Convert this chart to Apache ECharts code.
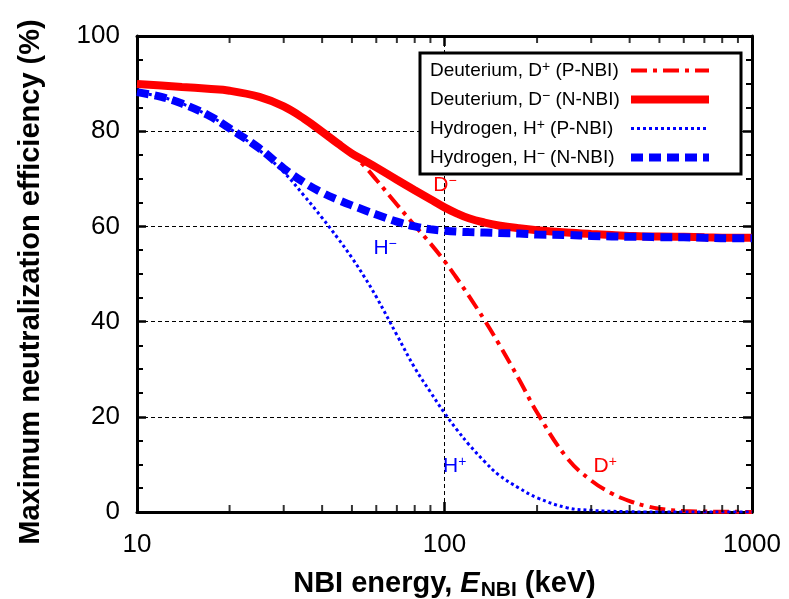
<!DOCTYPE html>
<html><head><meta charset="utf-8">
<script src="https://cdn.jsdelivr.net/npm/echarts@6/dist/echarts.min.js"></script>
<style>html,body{margin:0;padding:0;background:#fff}#c{width:789px;height:599px}</style>
</head><body><div id="c"></div>
<script>
// ---- data ----
const energies = [10, 12, 14, 17, 20, 25, 30, 35, 40, 45, 50, 55, 60, 70, 80, 90, 100, 110, 120, 135, 150, 175, 200, 250, 300, 350, 400, 450, 500, 600, 700, 850, 1000];
const dPlus  = [89.9, 89.6, 89.3, 88.9, 88.5, 87.2, 85.2, 82.6, 79.9, 77.4, 75.2, 72.6, 69.8, 64.6, 60.2, 56.4, 52.7, 49.0, 45.4, 40.3, 35.4, 27.8, 20.9, 11.4, 6.6, 3.9, 2.3, 1.3, 0.7, 0.2, 0.1, 0.05, 0];
const dMinus = [89.9, 89.6, 89.3, 88.9, 88.5, 87.2, 85.2, 82.6, 79.9, 77.4, 75.3, 73.8, 72.4, 69.8, 67.6, 65.7, 64.0, 62.7, 61.7, 60.8, 60.2, 59.6, 59.2, 58.7, 58.4, 58.2, 58.0, 57.9, 57.9, 57.8, 57.7, 57.6, 57.6];
const hPlus  = [88.2, 87.2, 85.8, 83.4, 80.6, 76.0, 71.4, 66.4, 61.8, 57.5, 53.4, 49.3, 45.2, 37.2, 30.3, 25.2, 20.8, 17.2, 14.2, 10.6, 7.8, 5.0, 3.0, 0.9, 0.35, 0.15, 0.05, 0, 0, 0, 0, 0, 0];
const hMinus = [88.2, 87.2, 85.8, 83.4, 80.6, 76.4, 72.2, 69.2, 67.1, 65.6, 64.4, 63.4, 62.5, 61.0, 60.0, 59.4, 59.1, 58.9, 58.8, 58.7, 58.6, 58.5, 58.3, 58.2, 58.0, 57.9, 57.8, 57.8, 57.7, 57.7, 57.6, 57.5, 57.5];
const xMinorTicks = [20, 30, 40, 50, 60, 70, 80, 90, 200, 300, 400, 500, 600, 700, 800, 900];
const yRange = [0, 100];
const yStep = 20;
const seriesNames = ['Deuterium, D+ (P-NBI)', 'Deuterium, D\u2212 (N-NBI)', 'Hydrogen, H+ (P-NBI)', 'Hydrogen, H\u2212 (N-NBI)'];

const FONT = "'Liberation Sans', Arial, Helvetica, sans-serif";
const RED = '#ff0000', BLUE = '#0000ff';
const pairs = vals => energies.map((e, i) => [e, vals[i]]);

function legendRich(name) {
  const m = name.match(/^(.*?)([+\u2212])(.*)$/);
  return '{t|' + m[1] + '}{s|' + m[2] + '}{t|' + m[3] + '}';
}
function curveLabel(letter, sign, color) {
  return {
    show: true, position: 'inside', color: color,
    formatter: '{m|' + letter + '}{s|' + sign + '}',
    rich: {
      m: { fontFamily: FONT, fontSize: 21, color: color, lineHeight: 22 },
      s: { fontFamily: FONT, fontSize: 14, color: color, lineHeight: 10, verticalAlign: 'top' }
    }
  };
}
function mark(letter, sign, color, coord) {
  return {
    symbol: 'circle', symbolSize: 1, silent: true, animation: false,
    itemStyle: { color: 'rgba(0,0,0,0)' },
    label: curveLabel(letter, sign, color),
    data: [{ coord: coord }]
  };
}

const chart = echarts.init(document.getElementById('c'), null, { renderer: 'canvas' });

const axisLineStyle = { color: '#000', width: 3 };
const xCommon = {
  type: 'log', logBase: 10, min: 10, max: 1000,
  axisLine: { show: true, onZero: false, lineStyle: axisLineStyle },
  axisTick: { show: true, inside: true, length: 10, lineStyle: { color: '#000', width: 2.5 } },
  minorTick: { show: false }
};
const yCommon = {
  type: 'value', min: yRange[0], max: yRange[1], interval: yStep,
  axisLine: { show: true, onZero: false, lineStyle: axisLineStyle },
  axisTick: { show: true, inside: true, length: 9, lineStyle: { color: '#000', width: 2.5 } },
  minorTick: { show: true, splitNumber: 4, length: 6, lineStyle: { color: '#000', width: 2 } },
  minorSplitLine: { show: false }
};

const option = {
  animation: false,
  backgroundColor: '#fff',
  textStyle: { fontFamily: FONT },
  grid: { left: 137, right: 37, top: 36, bottom: 87, containLabel: false, outerBoundsMode: 'none' },
  xAxis: [
    Object.assign({}, xCommon, {
      position: 'bottom',
      axisLabel: { color: '#000', fontSize: 26, fontFamily: FONT, margin: 20, formatter: v => String(v) },
      splitLine: { show: true, lineStyle: { color: '#000', width: 1, type: [4, 3] } },
      name: '{a|NBI energy, }{i|E}{sub|NBI}{a| (keV)}',
      nameLocation: 'middle', nameGap: 57,
      nameTextStyle: {
        color: '#000', fontFamily: FONT, fontSize: 29, fontWeight: 'bold',
        rich: {
          a: { fontFamily: FONT, fontSize: 29, fontWeight: 'bold', color: '#000', lineHeight: 32, verticalAlign: 'top' },
          i: { fontFamily: FONT, fontSize: 29, fontWeight: 'bold', fontStyle: 'italic', color: '#000', lineHeight: 32, verticalAlign: 'top' },
          sub: { fontFamily: FONT, fontSize: 21, fontWeight: 'bold', color: '#000', lineHeight: 14, verticalAlign: 'bottom', padding: [0, 0, 0, 1] }
        }
      }
    }),
    Object.assign({}, xCommon, {
      position: 'top',
      axisLabel: { show: false },
      splitLine: { show: false }
    })
  ],
  yAxis: [
    Object.assign({}, yCommon, {
      position: 'left',
      axisLabel: { color: '#000', fontSize: 26, fontFamily: FONT, margin: 17 },
      splitLine: { show: true, lineStyle: { color: '#000', width: 1, type: [4, 3] } },
      name: 'Maximum neutralization efficiency (%)',
      nameLocation: 'middle', nameGap: 92,
      nameTextStyle: { color: '#000', fontFamily: FONT, fontSize: 29, fontWeight: 'bold', padding: [0, 16, 0, 0] }
    }),
    Object.assign({}, yCommon, {
      position: 'right',
      axisLabel: { show: false },
      splitLine: { show: false }
    })
  ],
  legend: {
    data: seriesNames,
    orient: 'vertical', align: 'right',
    left: 420, top: 53,
    padding: [7, 28, 7, 10],
    itemGap: 9, itemWidth: 78, itemHeight: 19,
    borderColor: '#000', borderWidth: 3, backgroundColor: '#fff',
    itemStyle: { opacity: 0 },
    lineStyle: { width: 'inherit' },
    formatter: legendRich,
    textStyle: {
      color: '#000', fontFamily: FONT, fontSize: 19, width: 196,
      rich: {
        t: { fontFamily: FONT, fontSize: 19, color: '#000', lineHeight: 21, align: 'left' },
        s: { fontFamily: FONT, fontSize: 14, color: '#000', lineHeight: 10, verticalAlign: 'top', align: 'left' }
      }
    },
    selectedMode: false
  },
  series: [
    {
      name: seriesNames[0], type: 'line', data: pairs(dPlus),
      showSymbol: false, symbol: 'none', smooth: 0.4,
      lineStyle: { color: RED, width: 4, type: [16, 6, 4, 6] },
      itemStyle: { color: RED },
      markPoint: mark('D', '+', RED, [333, 9.6]),
      z: 2
    },
    {
      name: seriesNames[1], type: 'line', data: pairs(dMinus),
      showSymbol: false, symbol: 'none', smooth: 0.4,
      lineStyle: { color: RED, width: 8, type: 'solid' },
      itemStyle: { color: RED },
      markPoint: mark('D', '\u2212', RED, [100.4, 68.6]),
      z: 3
    },
    {
      name: seriesNames[2], type: 'line', data: pairs(hPlus),
      showSymbol: false, symbol: 'none', smooth: 0.4,
      lineStyle: { color: BLUE, width: 3, type: [3, 3] },
      itemStyle: { color: BLUE },
      markPoint: mark('H', '+', BLUE, [108, 9.6]),
      z: 4
    },
    {
      name: seriesNames[3], type: 'line', data: pairs(hMinus),
      showSymbol: false, symbol: 'none', smooth: 0.4,
      lineStyle: { color: BLUE, width: 8, type: [12, 6] },
      itemStyle: { color: BLUE },
      markPoint: mark('H', '\u2212', BLUE, [64.1, 55.4]),
      z: 5
    },
    {
      name: 'minorTicksBottom', type: 'scatter', silent: true, clip: false,
      xAxisIndex: 0, yAxisIndex: 0,
      data: xMinorTicks.map(v => [v, yRange[0]]),
      symbol: 'rect', symbolSize: [2, 7], symbolOffset: [0, -3.5],
      itemStyle: { color: '#000' }, z: 6
    },
    {
      name: 'minorTicksTop', type: 'scatter', silent: true, clip: false,
      xAxisIndex: 0, yAxisIndex: 0,
      data: xMinorTicks.map(v => [v, yRange[1]]),
      symbol: 'rect', symbolSize: [2, 7], symbolOffset: [0, 3.5],
      itemStyle: { color: '#000' }, z: 6
    }
  ]
};
chart.setOption(option);
</script>
</body></html>
